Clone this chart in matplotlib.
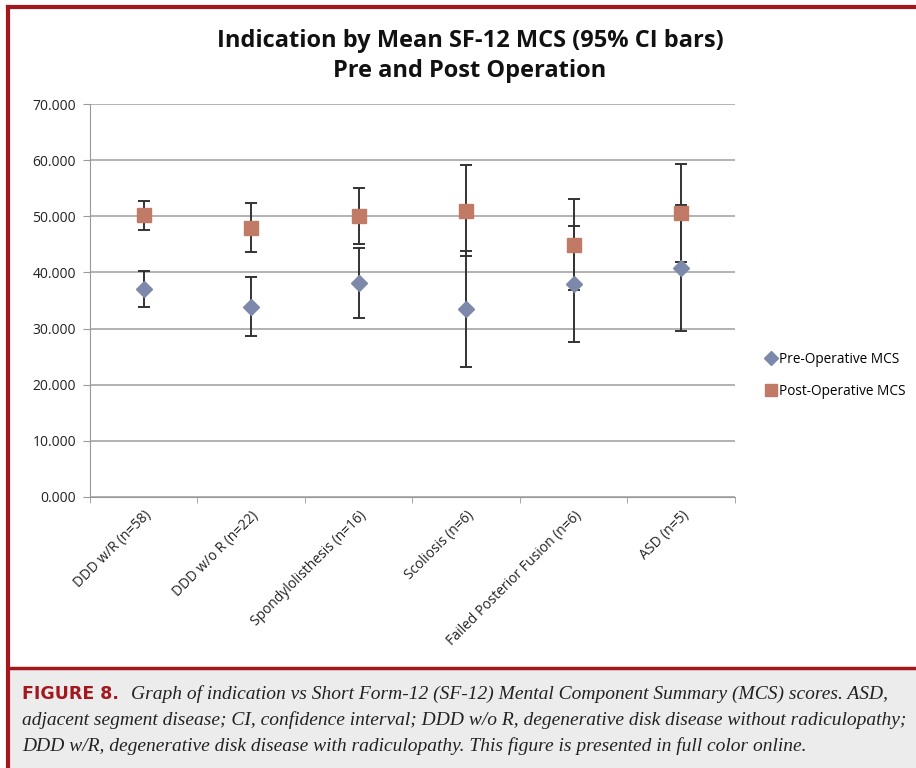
import matplotlib
matplotlib.use("Agg")
import matplotlib.pyplot as plt
from matplotlib.lines import Line2D
from matplotlib.patches import Rectangle
import numpy as np

categories = ["DDD w/R (n=58)", "DDD w/o R (n=22)", "Spondylolisthesis (n=16)",
              "Scoliosis (n=6)", "Failed Posterior Fusion (n=6)", "ASD (n=5)"]
pre_mean = [37.0, 33.9, 38.1, 33.5, 37.9, 40.8]
pre_ci = [3.2, 5.3, 6.3, 10.3, 10.3, 11.2]
post_mean = [50.2, 48.0, 50.1, 51.0, 44.9, 50.6]
post_ci = [2.6, 4.3, 5.0, 8.1, 8.1, 8.8]
y_ticks = [0, 10, 20, 30, 40, 50, 60, 70]

W, H = 916, 768
fig = plt.figure(figsize=(W / 100, H / 100), dpi=100)
plt.rcParams['font.family'] = ['Open Sans', 'DejaVu Sans']

red = '#a3171e'
# caption background
fig.patches.append(Rectangle((8 / W, 0), 1 - 8 / W, 1 - 668 / H, transform=fig.transFigure,
                             facecolor='#ececed', edgecolor='none', zorder=0))
# red frame
fig.add_artist(Line2D([8 / W, 8 / W], [0, 1 - 7 / H], color=red, lw=3, transform=fig.transFigure))
fig.add_artist(Line2D([8 / W, 1], [1 - 7 / H, 1 - 7 / H], color=red, lw=3, transform=fig.transFigure))
fig.add_artist(Line2D([8 / W, 1], [1 - 668 / H, 1 - 668 / H], color=red, lw=2.5, transform=fig.transFigure))

ax = fig.add_axes([90 / W, 1 - 497 / H, (735 - 90) / W, (497 - 104) / H])
x = np.arange(len(categories)) + 0.5
ax.set_xlim(0, len(categories))
ax.set_ylim(0, 70)
ax.set_yticks(y_ticks)
ax.set_yticklabels([f"{v:.3f}" for v in y_ticks], fontsize=10, color='#222222')
ax.set_xticks(x)
ax.set_xticklabels(categories, rotation=45, ha='right', rotation_mode='anchor', fontsize=10, color='#222222')
ax.set_xticks(np.arange(len(categories) + 1), minor=True)
ax.tick_params(axis='x', which='major', length=0, pad=8)
ax.tick_params(axis='x', which='minor', length=4, color='#999999')
ax.tick_params(axis='y', length=5, color='#999999', pad=5)
ax.grid(axis='y', color='#a6a6a6', lw=1.2)
ax.set_axisbelow(True)
for s in ['top', 'right']:
    ax.spines[s].set_visible(False)
ax.spines['left'].set_color('#999999')
ax.spines['bottom'].set_color('#999999')

pre_color = '#7d89ab'
post_color = '#c07a66'
ax.errorbar(x, pre_mean, yerr=pre_ci, fmt='D', color=pre_color, ms=8, mec=pre_color,
            ecolor='#333333', elinewidth=1.4, capsize=4, capthick=1.4, label='Pre-Operative MCS', zorder=3)
ax.errorbar(x, post_mean, yerr=post_ci, fmt='s', color=post_color, ms=10, mec=post_color,
            ecolor='#333333', elinewidth=1.4, capsize=4, capthick=1.4, label='Post-Operative MCS', zorder=3)

handles = [Line2D([], [], marker='D', color=pre_color, ls='none', ms=7),
           Line2D([], [], marker='s', color=post_color, ls='none', ms=9)]
fig.legend(handles, ['Pre-Operative MCS', 'Post-Operative MCS'], loc='upper left',
           bbox_to_anchor=(752 / W, 1 - 340 / H), frameon=False, fontsize=9.8,
           handletextpad=0.1, labelspacing=1.2, handlelength=1.0)

fig.text(470 / W, 1 - 56 / H, "Indication by Mean SF-12 MCS (95% CI bars)\nPre and Post Operation",
         ha='center', va='center', fontsize=17, fontweight='bold', color='#111111', linespacing=1.3)

cap_y = 1 - 694 / H
fig.text(22 / W, cap_y, "FIGURE 8.", fontsize=12.5, fontweight='bold', color=red,
         family=['Liberation Sans Narrow', 'DejaVu Sans'], va='center', ha='left')
lines = ["Graph of indication vs Short Form-12 (SF-12) Mental Component Summary (MCS) scores. ASD,",
         "adjacent segment disease; CI, confidence interval; DDD w/o R, degenerative disk disease without radiculopathy;",
         "DDD w/R, degenerative disk disease with radiculopathy. This figure is presented in full color online."]
fig.text(131 / W, cap_y, lines[0], fontsize=14, style='italic', color='#222222',
         family=['Liberation Serif'], va='center', ha='left')
fig.text(22 / W, 1 - 720 / H, lines[1], fontsize=14, style='italic', color='#222222',
         family=['Liberation Serif'], va='center', ha='left')
fig.text(22 / W, 1 - 746 / H, lines[2], fontsize=14, style='italic', color='#222222',
         family=['Liberation Serif'], va='center', ha='left')

fig.savefig('out.png', dpi=100)
